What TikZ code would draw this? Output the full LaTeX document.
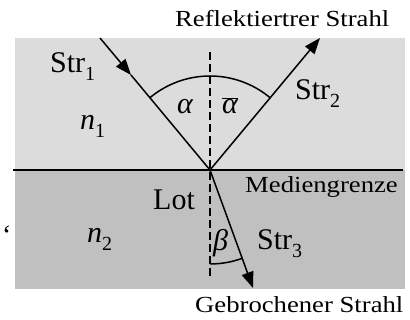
\documentclass[tikz,border=0pt]{standalone}
\usepackage{fontspec}
\setmainfont{Liberation Serif}
\usetikzlibrary{arrows.meta}
\definecolor{lightg}{RGB}{220,220,220}
\definecolor{darkg}{RGB}{192,192,192}
\newcommand\lsub[1]{\raisebox{-8pt}{\fontsize{20}{20}\selectfont #1}}
\newcommand\capt[1]{\scalebox{1.16}[1]{\fontsize{23}{25}\selectfont #1}}
\begin{document}
\begin{tikzpicture}[x=1pt,y=-1pt,
  lbl/.style={anchor=base west, inner sep=0pt, font=\fontsize{30}{32}\selectfont},
  ray/.style={line width=1.5pt},
  tip/.style={-{Triangle[length=16pt,width=12pt]}},
]
\useasboundingbox (0,0) rectangle (410,320);
\fill[lightg] (15,38) rectangle (405,170);
\fill[darkg] (15,170) rectangle (405,289);
\coordinate (O) at (210,170);
\coordinate (L) at (13,170);
\coordinate (R) at (403,170);
\draw[line width=2pt] (L) -- (R);
\coordinate (Ntop) at (210,52);
\coordinate (Nbot) at (210,277);
\draw[ray, dash pattern=on 8pt off 4pt] (Ntop) -- (Nbot);
% incident ray
\coordinate (A) at (100,38);
\coordinate (M) at (131,75);
\draw[ray,tip] (A) -- (M);
\draw[ray] (M) -- (O);
% reflected ray
\coordinate (B) at (320,38);
\draw[ray,tip] (O) -- (B);
% refracted ray
\coordinate (C) at (253,288);
\draw[ray,tip] (O) -- (C);
% angle arcs
\draw[ray] ([shift={(-130:94)}]O) arc[start angle=-130,end angle=-50,radius=94];
\draw[ray] ([shift={(90:94)}]O) arc[start angle=90,end angle=70,radius=94];
% labels
\node[lbl] (s1) at (50,73) {Str\lsub{1}};
\node[lbl] (n1) at (80,130) {\textit{n}\lsub{1}};
\node[lbl] (s2) at (295,100) {Str\lsub{2}};
\node[lbl] (al) at (177,114) {\textit{α}};
\node[lbl] (alb) at (222,114) {$\overline{\hbox{\itshape α}}$};
\node[lbl] (be) at (213,251) {\textit{β}};
\node[lbl] (s3) at (257,250) {Str\lsub{3}};
\node[lbl] (lot) at (153,210) {Lot};
\node[lbl] (n2) at (87,243) {\textit{n}\lsub{2}};
\node[lbl] (refl) at (175,27) {\capt{Reflektiertrer Strahl}};
\node[lbl] (med) at (245,193) {\capt{Mediengrenze}};
\node[lbl] (geb) at (195,313) {\capt{Gebrochener Strahl}};
\node[lbl, font=\fontsize{28}{28}\selectfont] (q) at (2,245) {‘};
\end{tikzpicture}
\end{document}
